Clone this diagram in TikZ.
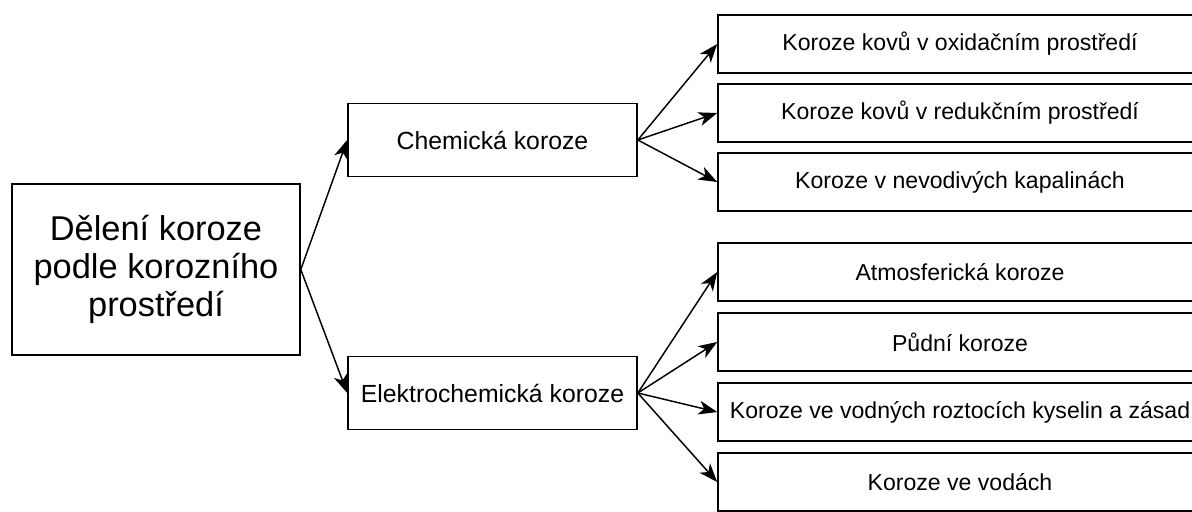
\documentclass[tikz,border=0pt]{standalone}
\usepackage{fontspec}
\setmainfont{Liberation Sans}
\usetikzlibrary{arrows.meta}
\begin{document}
\begin{tikzpicture}[x=0.75pt,y=-0.75pt,
  box/.style={draw=black, line width=1.2pt, rectangle, inner sep=0pt, align=center, fill=white},
  mainbox/.style={box, minimum width=216pt, minimum height=128.25pt, font=\fontsize{25.8pt}{28.5pt}\selectfont},
  midbox/.style={box, minimum width=216.75pt, minimum height=55pt, font=\fontsize{18.6pt}{22pt}\selectfont},
  leafbox/.style={box, minimum width=363pt, minimum height=43.5pt, font=\fontsize{17.3pt}{20pt}\selectfont},
  conn/.style={draw=black, line width=1.1pt, -{Stealth[length=14pt,width=10.5pt,inset=4pt]}}]
\useasboundingbox (0,0) rectangle (1192,511);
\fill[white] (0,0) rectangle (1192,511);

\node[mainbox] (main) at (156,269.5) {Dělení koroze\\podle korozního\\prostředí};
\node[midbox] (chem) at (492.5,140) {Chemická koroze};
\node[midbox] (elec) at (492.5,393) {Elektrochemická koroze};

\node[leafbox] (c1) at (960,44) {Koroze kovů v oxidačním prostředí};
\node[leafbox] (c2) at (960,113) {Koroze kovů v redukčním prostředí};
\node[leafbox] (c3) at (960,182) {Koroze v nevodivých kapalinách};

\node[leafbox] (e1) at (960,272) {Atmosferická koroze};
\node[leafbox] (e2) at (960,342) {Půdní koroze};
\node[leafbox] (e3) at (960,412) {Koroze ve vodných roztocích kyselin a zásad};
\node[leafbox] (e4) at (960,482) {Koroze ve vodách};

\draw[conn] (main.east) -- (chem.west);
\draw[conn] (main.east) -- (elec.west);
\foreach \t in {c1,c2,c3} \draw[conn] (chem.east) -- (\t.west);
\foreach \t in {e1,e2,e3,e4} \draw[conn] (elec.east) -- (\t.west);
\end{tikzpicture}
\end{document}
